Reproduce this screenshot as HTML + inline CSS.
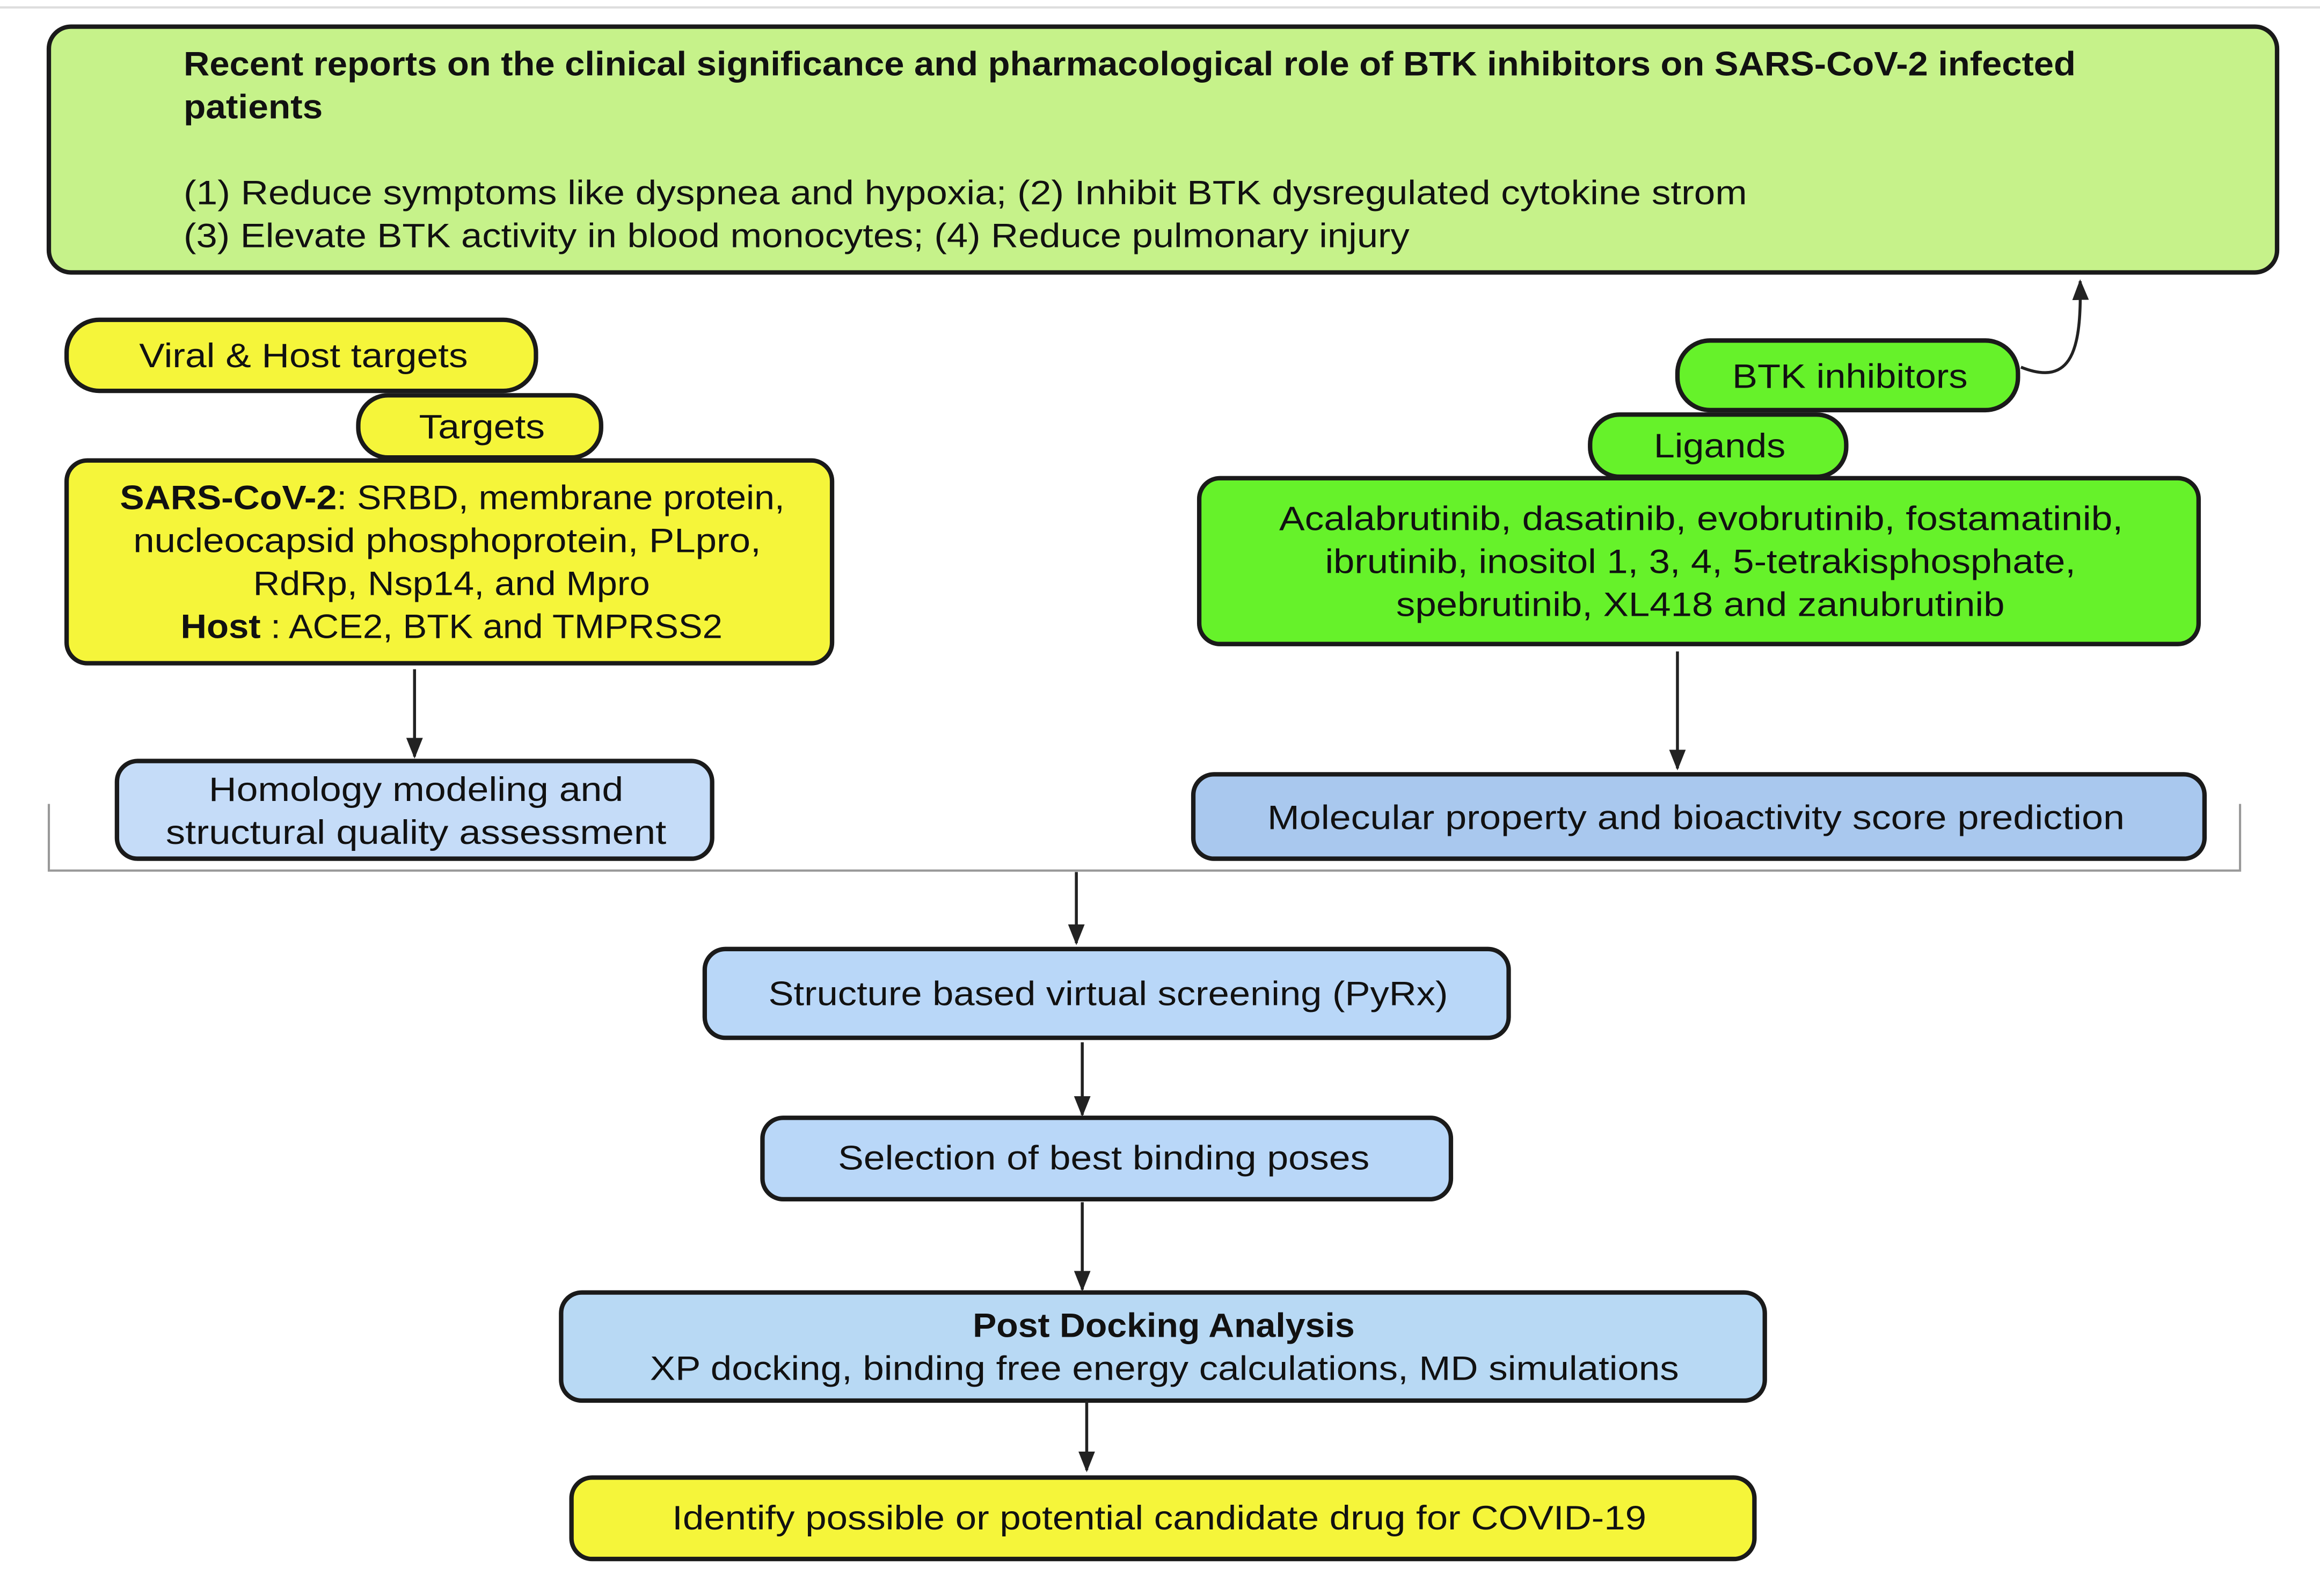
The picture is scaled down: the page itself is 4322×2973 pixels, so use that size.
<!DOCTYPE html>
<html><head><meta charset="utf-8"><style>html,body{margin:0;padding:0;background:#fff}svg{display:block}</style></head>
<body>
<svg width="4322" height="2973" viewBox="0 0 1567 1078" preserveAspectRatio="none" xmlns="http://www.w3.org/2000/svg" font-family="Liberation Sans, sans-serif" font-size="23" fill="#111">
<defs><marker id="a" viewBox="0 0 10 10" refX="9" refY="5" markerWidth="7" markerHeight="7" orient="auto"><path d="M0,1 L10,5 L0,9 z" fill="#222"/></marker></defs>
<line x1="0" y1="5" x2="1567" y2="5" stroke="#ddd" stroke-width="1.5"/>
<g stroke="#1a1a1a" stroke-width="3">
<rect x="33" y="18" width="1505" height="166" rx="15" fill="#c6f28a"/>
<rect x="45" y="216" width="317" height="48" rx="22" fill="#f5f53a"/>
<rect x="242" y="267" width="164" height="42" rx="20" fill="#f5f53a"/>
<rect x="45" y="311" width="517" height="137" rx="14" fill="#f5f53a"/>
<rect x="79" y="514" width="402" height="66" rx="14" fill="#c5dcf8"/>
<rect x="1133" y="230" width="230" height="47" rx="22" fill="#66f22a"/>
<rect x="1074" y="280" width="173" height="42" rx="20" fill="#66f22a"/>
<rect x="810" y="323" width="675" height="112" rx="14" fill="#66f22a"/>
<rect x="806" y="523" width="683" height="57" rx="14" fill="#a9c8ee"/>
<rect x="476" y="641" width="543" height="60" rx="14" fill="#b9d7f8"/>
<rect x="515" y="755" width="465" height="55" rx="14" fill="#b9d7f8"/>
<rect x="379" y="873" width="813" height="73" rx="14" fill="#b8d9f4"/>
<rect x="386" y="998" width="799" height="55" rx="14" fill="#f5f53a"/>
</g>
<g stroke="#999" stroke-width="1.5" fill="none"><path d="M33,543 V588 H1513 V543"/></g>
<g stroke="#222" stroke-width="2" fill="none" marker-end="url(#a)">
<line x1="280" y1="452" x2="280" y2="511"/>
<line x1="1133" y1="440" x2="1133" y2="519"/>
<line x1="727" y1="589" x2="727" y2="637"/>
<line x1="731" y1="704" x2="731" y2="753"/>
<line x1="731" y1="812" x2="731" y2="871"/>
<line x1="734" y1="946" x2="734" y2="993"/>
<path d="M1365,248 C1400,262 1406,235 1405,190"/>
</g>
<g font-weight="bold">
<text x="124" y="51" textLength="1278" lengthAdjust="spacingAndGlyphs">Recent reports on the clinical significance and pharmacological role of BTK inhibitors on SARS-CoV-2 infected</text>
<text x="124" y="80" textLength="94" lengthAdjust="spacingAndGlyphs">patients</text>
</g>
<text x="124" y="138" textLength="1056" lengthAdjust="spacingAndGlyphs">(1) Reduce symptoms like dyspnea and hypoxia;  (2) Inhibit BTK dysregulated cytokine strom</text>
<text x="124" y="167" textLength="828" lengthAdjust="spacingAndGlyphs">(3) Elevate BTK activity in blood monocytes; (4) Reduce pulmonary injury</text>
<text x="94" y="248" textLength="222" lengthAdjust="spacingAndGlyphs">Viral &amp; Host targets</text>
<text x="283" y="296" textLength="85" lengthAdjust="spacingAndGlyphs">Targets</text>
<text x="81" y="344" textLength="449" lengthAdjust="spacingAndGlyphs"><tspan font-weight="bold">SARS-CoV-2</tspan>: SRBD, membrane protein,</text>
<text x="90" y="373" textLength="424" lengthAdjust="spacingAndGlyphs">nucleocapsid phosphoprotein, PLpro,</text>
<text x="171" y="402" textLength="268" lengthAdjust="spacingAndGlyphs">RdRp, Nsp14, and Mpro</text>
<text x="122" y="431" textLength="366" lengthAdjust="spacingAndGlyphs"><tspan font-weight="bold">Host</tspan> : ACE2, BTK and TMPRSS2</text>
<text x="141" y="541" textLength="280" lengthAdjust="spacingAndGlyphs">Homology modeling and</text>
<text x="112" y="570" textLength="338" lengthAdjust="spacingAndGlyphs">structural quality assessment</text>
<text x="1170" y="262" textLength="159" lengthAdjust="spacingAndGlyphs">BTK inhibitors</text>
<text x="1117" y="309" textLength="89" lengthAdjust="spacingAndGlyphs">Ligands</text>
<text x="864" y="358" textLength="570" lengthAdjust="spacingAndGlyphs">Acalabrutinib, dasatinib, evobrutinib, fostamatinib,</text>
<text x="895" y="387" textLength="507" lengthAdjust="spacingAndGlyphs">ibrutinib, inositol 1, 3, 4, 5-tetrakisphosphate,</text>
<text x="943" y="416" textLength="411" lengthAdjust="spacingAndGlyphs">spebrutinib, XL418 and zanubrutinib</text>
<text x="856" y="560" textLength="579" lengthAdjust="spacingAndGlyphs">Molecular property and bioactivity score prediction</text>
<text x="519" y="679" textLength="459" lengthAdjust="spacingAndGlyphs">Structure based virtual screening (PyRx)</text>
<text x="566" y="790" textLength="359" lengthAdjust="spacingAndGlyphs">Selection of best binding poses</text>
<text x="657" y="903" font-weight="bold" textLength="258" lengthAdjust="spacingAndGlyphs">Post Docking Analysis</text>
<text x="439" y="932" textLength="695" lengthAdjust="spacingAndGlyphs">XP docking, binding free energy calculations, MD simulations</text>
<text x="454" y="1033" textLength="658" lengthAdjust="spacingAndGlyphs">Identify possible or potential candidate drug for COVID-19</text>
</svg>
</body></html>
